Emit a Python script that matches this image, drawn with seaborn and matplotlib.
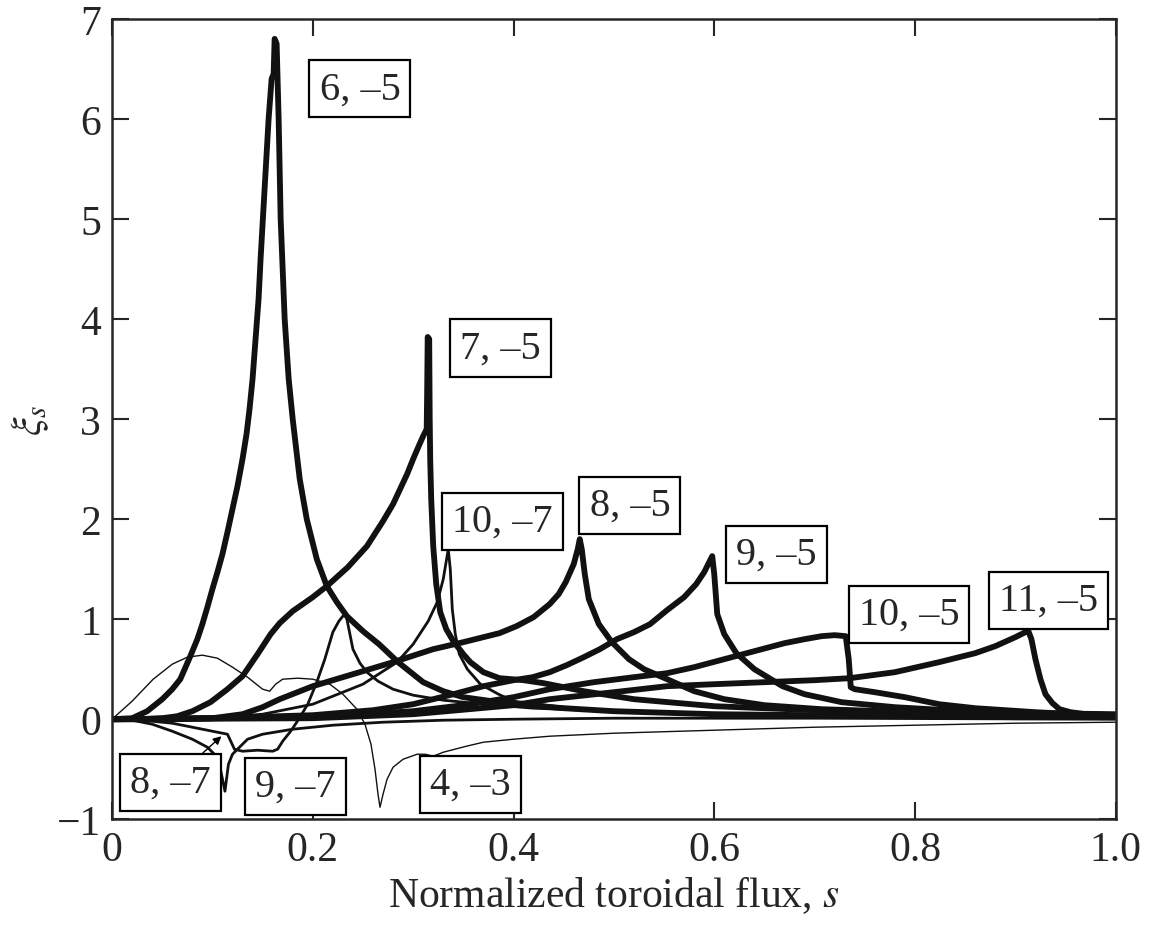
import pandas as pd
import matplotlib
matplotlib.use("Agg")
import matplotlib.pyplot as plt
import seaborn as sns

# Radial profiles of xi_s harmonics (m, n)
s_6_5 = [0, 0.02, 0.035, 0.05, 0.06, 0.068, 0.078, 0.085, 0.09, 0.095, 0.1, 0.105, 0.11, 0.115, 0.12,
         0.125, 0.13, 0.134, 0.137, 0.14, 0.143, 0.146, 0.148, 0.15, 0.152, 0.154, 0.156, 0.159, 0.161,
         0.162, 0.164, 0.166, 0.168, 0.172, 0.176, 0.18, 0.187, 0.194, 0.204, 0.214, 0.224, 0.234,
         0.25, 0.266, 0.285, 0.31, 0.33, 0.35, 0.4, 0.45, 0.5, 0.6, 0.7, 0.8, 0.9, 1.0]
xi_6_5 = [0, 0.01, 0.08, 0.2, 0.3, 0.4, 0.63, 0.8, 0.95, 1.12, 1.3, 1.47, 1.65, 1.87, 2.1,
          2.33, 2.6, 2.85, 3.1, 3.4, 3.8, 4.2, 4.6, 4.95, 5.3, 5.65, 6.0, 6.4, 6.45,
          6.8, 6.75, 6.0, 5.0, 4.0, 3.4, 3.0, 2.4, 2.0, 1.6, 1.33, 1.17, 1.03,
          0.88, 0.75, 0.57, 0.37, 0.28, 0.22, 0.15, 0.11, 0.08, 0.05, 0.04, 0.03, 0.02, 0.02]

s_7_5 = [0, 0.03, 0.05, 0.065, 0.08, 0.098, 0.115, 0.13, 0.145, 0.158, 0.167, 0.18, 0.2, 0.214, 0.235,
         0.254, 0.27, 0.28, 0.287, 0.294, 0.3, 0.306, 0.31, 0.3135, 0.314, 0.3145, 0.316, 0.3165, 0.317,
         0.318, 0.32, 0.323, 0.327, 0.333, 0.34, 0.35, 0.357, 0.37, 0.386, 0.41, 0.43, 0.47, 0.52, 0.6,
         0.7, 0.8, 0.9, 1.0]
xi_7_5 = [0, 0.0, 0.01, 0.03, 0.08, 0.17, 0.3, 0.43, 0.65, 0.85, 0.96, 1.08, 1.22, 1.33, 1.52,
          1.73, 1.98, 2.15, 2.3, 2.45, 2.6, 2.74, 2.83, 2.9, 3.3, 3.82, 3.8, 3.0, 2.6,
          2.2, 1.73, 1.35, 1.07, 0.9, 0.78, 0.65, 0.57, 0.47, 0.41, 0.39, 0.36, 0.28, 0.2, 0.13,
          0.09, 0.06, 0.05, 0.04]

s_8_5 = [0, 0.05, 0.1, 0.13, 0.15, 0.167, 0.2, 0.24, 0.28, 0.32, 0.35, 0.37, 0.386, 0.403, 0.42, 0.436,
         0.445, 0.452, 0.46, 0.464, 0.466, 0.468, 0.471, 0.475, 0.485, 0.498, 0.515, 0.53, 0.553, 0.58,
         0.61, 0.65, 0.707, 0.8, 0.9, 1.0]
xi_8_5 = [0, 0, 0.01, 0.05, 0.12, 0.2, 0.33, 0.45, 0.57, 0.7, 0.77, 0.82, 0.86, 0.93, 1.02, 1.15,
          1.25, 1.37, 1.55, 1.7, 1.8, 1.7, 1.45, 1.2, 0.95, 0.77, 0.6, 0.5, 0.4, 0.28,
          0.2, 0.14, 0.1, 0.07, 0.05, 0.04]

s_9_5 = [0, 0.1, 0.2, 0.26, 0.3, 0.34, 0.37, 0.4, 0.419, 0.436, 0.453, 0.47, 0.486, 0.503, 0.52, 0.536,
         0.553, 0.57, 0.582, 0.59, 0.595, 0.598, 0.6, 0.603, 0.61, 0.622, 0.64, 0.668, 0.69, 0.727, 0.78,
         0.85, 0.92, 1.0]
xi_9_5 = [0, 0.01, 0.04, 0.09, 0.15, 0.25, 0.33, 0.39, 0.42, 0.47, 0.54, 0.62, 0.7, 0.8, 0.87, 0.95,
          1.09, 1.22, 1.35, 1.47, 1.57, 1.63, 1.45, 1.05, 0.85, 0.66, 0.5, 0.33, 0.25, 0.17, 0.12,
          0.08, 0.06, 0.05]

s_10_5 = [0, 0.2, 0.3, 0.35, 0.4, 0.436, 0.48, 0.52, 0.553, 0.58, 0.61, 0.64, 0.67, 0.69, 0.707, 0.72,
          0.731, 0.734, 0.736, 0.74, 0.76, 0.79, 0.824, 0.86, 0.92, 0.96, 1.0]
xi_10_5 = [0, 0.02, 0.08, 0.14, 0.22, 0.3, 0.37, 0.42, 0.46, 0.52, 0.6, 0.68, 0.76, 0.8, 0.83, 0.84,
           0.83, 0.6, 0.32, 0.3, 0.27, 0.22, 0.15, 0.11, 0.07, 0.05, 0.04]

s_11_5 = [0, 0.2, 0.3, 0.4, 0.436, 0.5, 0.553, 0.6, 0.65, 0.7, 0.735, 0.78, 0.824, 0.86, 0.88, 0.9,
          0.91, 0.913, 0.916, 0.92, 0.925, 0.93, 0.937, 0.944, 0.955, 0.97, 1.0]
xi_11_5 = [0, 0.01, 0.05, 0.14, 0.2, 0.27, 0.33, 0.35, 0.37, 0.39, 0.41, 0.47, 0.57, 0.66, 0.73, 0.82,
           0.87, 0.88, 0.8, 0.6, 0.4, 0.25, 0.16, 0.1, 0.07, 0.05, 0.04]

s_8_7 = [0, 0.02, 0.04, 0.06, 0.08, 0.095, 0.103, 0.108, 0.1125, 0.116, 0.12, 0.125, 0.135, 0.15, 0.18,
         0.22, 0.27, 0.33, 0.4, 0.5, 0.7, 1.0]
xi_8_7 = [0, -0.01, -0.05, -0.12, -0.2, -0.28, -0.36, -0.5, -0.72, -0.45, -0.35, -0.3, -0.2, -0.15, -0.1,
          -0.06, -0.03, -0.01, 0.0, 0.01, 0.01, 0.0]

s_9_7 = [0, 0.03, 0.06, 0.09, 0.105, 0.115, 0.122, 0.13, 0.145, 0.16, 0.165, 0.17, 0.178, 0.186, 0.195,
         0.204, 0.212, 0.22, 0.226, 0.23, 0.233, 0.236, 0.24, 0.247, 0.254, 0.265, 0.28, 0.3, 0.33,
         0.37, 0.42, 0.5, 0.6, 0.75, 1.0]
xi_9_7 = [0, -0.01, -0.04, -0.1, -0.13, -0.15, -0.3, -0.32, -0.31, -0.32, -0.3, -0.22, -0.12, 0.0, 0.15,
          0.37, 0.6, 0.87, 0.98, 1.03, 1.05, 0.9, 0.7, 0.56, 0.47, 0.38, 0.3, 0.24, 0.19,
          0.15, 0.11, 0.08, 0.05, 0.03, 0.02]

s_10_7 = [0, 0.1, 0.15, 0.2, 0.25, 0.284, 0.3, 0.315, 0.324, 0.33, 0.335, 0.337, 0.339, 0.342, 0.346,
          0.354, 0.367, 0.385, 0.4, 0.45, 0.5, 0.6, 0.7, 0.8, 1.0]
xi_10_7 = [0, 0.01, 0.05, 0.15, 0.35, 0.57, 0.75, 0.98, 1.17, 1.4, 1.7, 1.5, 1.1, 0.85, 0.65,
           0.5, 0.35, 0.25, 0.18, 0.12, 0.08, 0.05, 0.03, 0.02, 0.01]

s_4_3 = [0, 0.02, 0.041, 0.06, 0.075, 0.09, 0.105, 0.12, 0.135, 0.15, 0.157, 0.163, 0.17, 0.185, 0.2,
         0.217, 0.23, 0.244, 0.252, 0.258, 0.262, 0.265, 0.267, 0.27, 0.274, 0.28, 0.29, 0.304, 0.312,
         0.32, 0.33, 0.353, 0.37, 0.4, 0.436, 0.5, 0.6, 0.7, 0.8, 0.9, 1.0]
xi_4_3 = [0, 0.18, 0.4, 0.55, 0.62, 0.64, 0.61, 0.52, 0.42, 0.3, 0.28, 0.35, 0.4, 0.41, 0.4,
          0.35, 0.25, 0.1, -0.05, -0.25, -0.5, -0.75, -0.88, -0.75, -0.6, -0.48, -0.4, -0.35, -0.35,
          -0.37, -0.33, -0.27, -0.23, -0.2, -0.17, -0.14, -0.11, -0.08, -0.06, -0.04, -0.03]

modes = ["6,-5", "7,-5", "8,-5", "9,-5", "10,-5", "11,-5", "8,-7", "9,-7", "10,-7", "4,-3"]
s_all = [s_6_5, s_7_5, s_8_5, s_9_5, s_10_5, s_11_5, s_8_7, s_9_7, s_10_7, s_4_3]
xi_all = [xi_6_5, xi_7_5, xi_8_5, xi_9_5, xi_10_5, xi_11_5, xi_8_7, xi_9_7, xi_10_7, xi_4_3]

# label text and where the box sits (data coords)
label_text = ["6, –5", "7, –5", "8, –5", "9, –5", "10, –5", "11, –5", "8, –7", "9, –7", "10, –7", "4, –3"]
label_s = [0.247, 0.387, 0.516, 0.662, 0.794, 0.933, 0.058, 0.183, 0.389, 0.357]
label_xi = [6.3, 3.71, 2.14, 1.65, 1.05, 1.19, -0.63, -0.67, 1.98, -0.65]

df = pd.concat([pd.DataFrame({"s": s, "xi": xi, "mode": m}) for m, s, xi in zip(modes, s_all, xi_all)])

sns.set_style("ticks")
plt.rcParams['font.family'] = ['Liberation Serif', 'DejaVu Serif']
plt.rcParams['mathtext.fontset'] = 'stix'

fig, ax = plt.subplots(figsize=(11.61, 9.45), dpi=100)
fig.subplots_adjust(left=0.0965, right=0.961, top=0.979, bottom=0.132)

# n = -5 harmonics thick, n = -7 medium, 4,-3 thin
widths = {"-5": 4.2, "-7": 2.0, "-3": 1.0}
for m in modes:
    sub = df[df["mode"] == m]
    sns.lineplot(data=sub, x="s", y="xi", sort=False, estimator=None, color="#111111",
                 lw=widths[m.split(",")[1]], ax=ax, legend=False)

box = dict(boxstyle="square,pad=0.25", fc="white", ec="black", lw=1.6)
for t, xs, ys in zip(label_text, label_s, label_xi):
    if t == "8, –7":
        ax.annotate(t, xy=(0.109, -0.17), xytext=(xs, ys), ha="center", va="center", fontsize=29,
                    bbox=box, arrowprops=dict(arrowstyle="-|>", color="black", lw=1.0,
                                              shrinkA=0, shrinkB=0, mutation_scale=12),
                    zorder=5)
    else:
        ax.text(xs, ys, t, ha="center", va="center", fontsize=29, bbox=box, zorder=5)

ax.set_xlim(0, 1.0)
ax.set_ylim(-1, 7)
ax.set_xticks([0, 0.2, 0.4, 0.6, 0.8, 1.0])
ax.set_xticklabels(["0", "0.2", "0.4", "0.6", "0.8", "1.0"])
ax.set_yticks(range(-1, 8))
ax.tick_params(direction="in", length=12, width=1.5, top=True, right=True, labelsize=30, pad=8)
for sp in ax.spines.values():
    sp.set_linewidth(1.8)
    sp.set_visible(True)

ax.set_xlabel("Normalized toroidal flux, $s$", fontsize=30, labelpad=4)
ax.set_ylabel(r"$\xi_s$", fontsize=30, labelpad=4)

plt.savefig("out.png", dpi=100)
plt.close()
